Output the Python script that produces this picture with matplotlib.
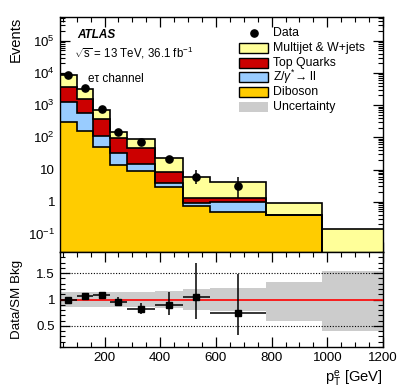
import numpy as np
import matplotlib
matplotlib.use("Agg")
import matplotlib.pyplot as plt
from matplotlib.patches import Rectangle
from matplotlib.lines import Line2D
from matplotlib.ticker import FixedLocator, MultipleLocator, LogLocator, NullFormatter, FuncFormatter

plt.rcParams['font.family'] = ['Liberation Sans', 'DejaVu Sans']
plt.rcParams['mathtext.fontset'] = 'custom'
plt.rcParams['mathtext.rm'] = 'Liberation Sans'
plt.rcParams['mathtext.it'] = 'Liberation Sans:italic'
plt.rcParams['mathtext.bf'] = 'Liberation Sans:bold'

# ---- data ----
edges = [40, 100, 160, 220, 280, 380, 480, 580, 780, 980, 1200]
diboson = [303, 160, 49, 13.8, 9.2, 2.8, 0.73, 0.49, 0.38, 0.015]
zll = [957, 396, 61, 18, 5.3, 0.93, 0.16, 0.47, 0.005, 0.001]
top = [2300, 954, 252, 61, 31, 4.8, 0.44, 0.37, 0.005, 0.001]
multijet = [5040, 1590, 343, 56, 43, 14.7, 4.35, 2.67, 0.5, 0.125]
data_counts = [8600, 3300, 760, 143, 73, 21, 6, 3]
rel_unc_up = [0.14, 0.14, 0.14, 0.14, 0.15, 0.17, 0.19, 0.22, 0.34, 0.54]
rel_unc_dn = [0.14, 0.14, 0.14, 0.14, 0.15, 0.17, 0.20, 0.22, 0.40, 0.59]

labels = ["Multijet & W+jets", "Top Quarks", r"Z/$\gamma^{*}$→ ll", "Diboson"]
colors = {"multijet": "#FFFF99", "top": "#CC0000", "zll": "#99CCFF", "diboson": "#FFCC00"}

edges_a = np.array(edges, float)
centers = 0.5 * (edges_a[1:] + edges_a[:-1])
halfw = 0.5 * (edges_a[1:] - edges_a[:-1])

comps = [("diboson", np.array(diboson)), ("zll", np.array(zll)),
         ("top", np.array(top)), ("multijet", np.array(multijet))]

W, H = 407, 391
fig = plt.figure(figsize=(W / 100, H / 100), dpi=100)
L, R = 60 / W, 383 / W
ax = fig.add_axes([L, 1 - 252 / H, R - L, (252 - 17) / H])
axr = fig.add_axes([L, 1 - 347 / H, R - L, (347 - 252) / H], sharex=ax)

# stack
base = np.zeros(len(centers))
ymin = 0.0274
for name, vals in comps:
    topv = base + vals
    b = np.maximum(base, ymin * 0.5)
    ax.stairs(topv, edges_a, baseline=b, fill=True, facecolor=colors[name],
              edgecolor='none', zorder=2)
    ax.stairs(topv, edges_a, baseline=None, color='black', lw=1.2, zorder=3)
    base = topv
total = base

# data
n = np.array(data_counts, float)
up = 1 + np.sqrt(n + 0.75)
dn = np.sqrt(n - 0.25)
xd = centers[:len(n)]
ax.errorbar(xd, n, yerr=[dn, up], fmt='o', color='black', ms=5.2, lw=1.1,
            capsize=0, zorder=6)

ax.set_yscale('log')
ax.set_ylim(ymin, 5.45e5)
ax.set_xlim(40, 1200)


def logfmt(v, pos):
    e = int(round(np.log10(v)))
    if e == 0:
        return "1"
    if e == 1:
        return "10"
    return r"$10^{%d}$" % e


ax.yaxis.set_major_locator(FixedLocator([0.1, 1, 10, 100, 1e3, 1e4, 1e5]))
ax.yaxis.set_major_formatter(FuncFormatter(logfmt))
ax.yaxis.set_minor_locator(LogLocator(base=10, subs=np.arange(2, 10), numticks=20))
ax.yaxis.set_minor_formatter(NullFormatter())
ax.xaxis.set_major_locator(MultipleLocator(200))
ax.xaxis.set_minor_locator(MultipleLocator(50))
plt.setp(ax.get_xticklabels(), visible=False)
for a in (ax, axr):
    a.tick_params(which='both', direction='in', top=True, right=True, labelsize=9.6)
    a.tick_params(which='major', length=7, width=0.9)
    a.tick_params(which='minor', length=3.6, width=0.8)
    for s in a.spines.values():
        s.set_linewidth(1.0)

ax.set_ylabel("Events", fontsize=10.6, loc='top')
ax.yaxis.set_label_coords(-0.115, 1.0)

# texts
fig.text(77 / W, 1 - 35 / H, "ATLAS", fontsize=8.5,
         fontweight='bold', fontstyle='italic', va='center', ha='left')
fig.text(74 / W, 1 - 53 / H, r"$\sqrt{\mathrm{s}}$ = 13 TeV, 36.1 fb$^{-1}$",
         fontsize=8.3, va='center', ha='left')
fig.text(88 / W, 1 - 79 / H, "eτ channel", fontsize=8.5, va='center', ha='left')

# legend (manual)
leg_labels = ["Data"] + labels + ["Uncertainty"]
leg_faces = [None, colors["multijet"], colors["top"], colors["zll"], colors["diboson"], "#CCCCCC"]
bx0, bw, bh = 239, 29, 10
for i, (lab, fc) in enumerate(zip(leg_labels, leg_faces)):
    yc = 33 + 14.8 * i
    if fc is None:
        fig.add_artist(Line2D([(bx0 + bw / 2) / W], [1 - yc / H], marker='o', color='black',
                              ms=5.2, ls='none', transform=fig.transFigure))
    else:
        ec = 'none' if i == 5 else 'black'
        fig.add_artist(Rectangle((bx0 / W, 1 - (yc + bh / 2) / H), bw / W, bh / H,
                                 facecolor=fc, edgecolor=ec, lw=1.0, transform=fig.transFigure))
    fig.text(273 / W, 1 - yc / H, lab, fontsize=8.8, va='center', ha='left')

# ratio panel
bw_up = 1 + np.array(rel_unc_up)
bw_dn = 1 - np.array(rel_unc_dn)
axr.stairs(bw_up, edges_a, baseline=bw_dn, fill=True, facecolor='#CCCCCC',
           edgecolor='none', zorder=1)
axr.axhline(1.0, color='red', lw=1.2, zorder=3)
for yv in (0.5, 1.5):
    axr.axhline(yv, color='black', lw=0.8, ls=(0, (1, 1.5)), zorder=2)
tot_d = total[:len(n)]
ratio = n / tot_d
axr.errorbar(xd, ratio, xerr=halfw[:len(n)], yerr=[dn / tot_d, up / tot_d],
             fmt='s', color='black', ms=3.8, lw=1.1, capsize=0, zorder=5)
axr.set_ylim(0.1, 1.9)
axr.yaxis.set_major_locator(FixedLocator([0.5, 1.0, 1.5]))
axr.yaxis.set_major_formatter(FuncFormatter(lambda v, p: "%g" % v))
axr.yaxis.set_minor_locator(MultipleLocator(0.1))
axr.xaxis.set_major_locator(MultipleLocator(200))
axr.xaxis.set_minor_locator(MultipleLocator(50))
axr.set_xlim(40, 1200)
axr.set_ylabel("Data/SM Bkg", fontsize=9.6)
axr.yaxis.set_label_coords(-0.115, 0.5)
axr.set_xlabel(r"p$_{\mathrm{T}}^{\mathrm{e}}$ [GeV]", fontsize=10.6, loc='right')

fig.savefig("out.png", dpi=100)
